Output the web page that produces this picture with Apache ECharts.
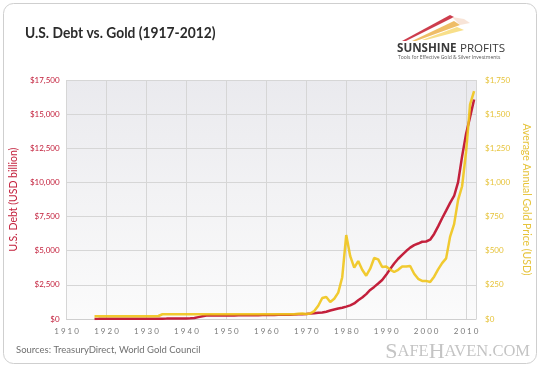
<!DOCTYPE html>
<html>
<head>
<meta charset="utf-8">
<script src="https://cdn.jsdelivr.net/npm/echarts@6/dist/echarts.min.js"></script>
<style>
html,body{margin:0;padding:0;background:#fff;}
#chart{width:540px;height:368px;}
</style>
</head>
<body>
<div id="chart"></div>
<script>
var years = [1917,1918,1919,1920,1921,1922,1923,1924,1925,1926,1927,1928,1929,1930,1931,1932,1933,1934,1935,1936,1937,1938,1939,1940,1941,1942,1943,1944,1945,1946,1947,1948,1949,1950,1951,1952,1953,1954,1955,1956,1957,1958,1959,1960,1961,1962,1963,1964,1965,1966,1967,1968,1969,1970,1971,1972,1973,1974,1975,1976,1977,1978,1979,1980,1981,1982,1983,1984,1985,1986,1987,1988,1989,1990,1991,1992,1993,1994,1995,1996,1997,1998,1999,2000,2001,2002,2003,2004,2005,2006,2007,2008,2009,2010,2011,2012];
var debtBillion = [3,12,25,24,24,23,22,21,21,20,19,18,17,16,17,19,23,27,29,34,36,37,40,43,49,72,137,201,259,269,258,252,253,257,255,259,266,271,274,273,271,276,285,286,289,298,306,312,317,320,326,348,354,371,398,427,458,475,533,620,699,772,827,908,998,1142,1377,1572,1823,2125,2350,2602,2857,3233,3665,4065,4411,4693,4974,5225,5413,5526,5656,5674,5807,6228,6783,7379,7933,8507,9008,10025,11910,13562,14790,16066];
var goldPrice = [20.67,20.67,20.67,20.67,20.67,20.67,20.67,20.67,20.67,20.67,20.67,20.67,20.67,20.67,20.67,20.67,22,34.69,35,35,35,35,35,35,35,35,35,35,35,35,35,35,35,35,35,35,35,35,35,35,35,35,35,35,35,35,35,35,35,35,35,39,41,36,41,58,97,154,161,125,148,193,306,615,460,376,424,361,317,368,447,437,381,384,362,344,360,384,384,388,331,294,279,279,271,310,363,409,444,603,695,872,972,1225,1572,1669];
var xTicks = [1910,1920,1930,1940,1950,1960,1970,1980,1990,2000,2010];
var debtTicks = [0,2500,5000,7500,10000,12500,15000,17500];
var goldTicks = [0,250,500,750,1000,1250,1500,1750];

var RED = '#c3203c', YEL = '#f0c419';
function money(v){ return '$' + String(v).replace(/\B(?=(\d{3})+(?!\d))/g, ','); }

var debtData = years.map(function(y,i){ return [y, debtBillion[i]]; });
var goldData = years.map(function(y,i){ return [y, goldPrice[i]]; });

var chart = echarts.init(document.getElementById('chart'), null, {renderer:'canvas'});
var font = 'Lato, "Open Sans", sans-serif';
chart.setOption({
  animation:false,
  backgroundColor:'#fff',
  graphic:[
    {type:'rect', shape:{x:3.5,y:3.5,width:533,height:360,r:10}, style:{fill:'#fff', stroke:'#cfcfcf', lineWidth:1}, z:-10},
    {type:'text', x:25, y:26, scaleX:0.92, style:{text:'U.S. Debt vs. Gold (1917-2012)', font:'bold 15px Lato, sans-serif', fill:'#2b2b2b'}},
    // logo streaks
    {type:'polygon', shape:{points:[[402,41],[450,15],[454,17],[406,41]]}, style:{fill:'#c8283a', opacity:0.9}},
    {type:'polygon', shape:{points:[[412,41],[454,21],[460,25],[416,41]]}, style:{fill:'#e9a733', opacity:0.75}},
    {type:'polygon', shape:{points:[[422,40],[457,27],[464,30],[426,40]]}, style:{fill:'#f3c93b', opacity:0.6}},
    {type:'polygon', shape:{points:[[452,17],[464,19],[470,23],[460,25]]}, style:{fill:'#f2c9b0', opacity:0.5}},
    {type:'text', x:397, y:43, style:{rich:{a:{font:'bold 11.6px "Open Sans", sans-serif', fill:'#3a3a3a'}, b:{font:'11.6px "Open Sans", sans-serif', fill:'#3a3a3a'}}, text:'{a|SUNSHINE} {b|PROFITS}'}},
    {type:'text', x:398, y:55.5, style:{text:'Tools for Effective Gold & Silver Investments', font:'5px "Open Sans", sans-serif', fill:'#555'}},
    {type:'text', x:16, y:345, style:{text:'Sources: TreasuryDirect, World Gold Council', font:'9.5px Lato, sans-serif', fill:'#707070'}},
    {type:'text', right:10, top:341, style:{rich:{a:{font:'22px "Liberation Serif", serif', fill:'#c4c4c4'}, b:{font:'16.5px "Liberation Serif", serif', fill:'#c4c4c4'}}, text:'{a|S}{b|AFE}{a|H}{b|AVEN.COM}'}}
  ],
  grid:{left:62, right:56, top:80, bottom:49, show:true, borderWidth:0,
    backgroundColor:{type:'linear', x:0, y:0, x2:0, y2:1, colorStops:[{offset:0,color:'#eaeaee'},{offset:1,color:'#fbfbfb'}]}},
  xAxis:{type:'value', min:xTicks[0], max:2012.5, interval:10,
    axisLine:{show:true, lineStyle:{color:'#cfcfcf'}}, axisTick:{show:false},
    splitLine:{show:true, lineStyle:{color:'#d6d6d6'}},
    axisLabel:{showMaxLabel:false, color:'#7a7a7a', fontSize:8, fontFamily:font, margin:8,
      formatter:function(v){ return xTicks.indexOf(v) >= 0 ? v.toString().split('').join(' ') : ''; }}},
  yAxis:[
    {type:'value', min:debtTicks[0], max:debtTicks[debtTicks.length-1], interval:2500,
      name:'U.S. Debt (USD billion)', nameLocation:'middle', nameGap:44, nameRotate:90,
      nameTextStyle:{color:RED, fontSize:10.5, fontFamily:font},
      axisLine:{show:false}, axisTick:{show:false},
      splitLine:{show:true, lineStyle:{color:'#d6d6d6'}},
      axisLabel:{color:RED, fontSize:8, fontFamily:font, margin:7, formatter:money}},
    {type:'value', min:goldTicks[0], max:goldTicks[goldTicks.length-1], interval:250,
      name:'Average Annual Gold Price (USD)', nameLocation:'middle', nameGap:41, nameRotate:-90,
      nameTextStyle:{color:'#e6c33a', fontSize:10.5, fontFamily:font},
      axisLine:{show:false}, axisTick:{show:false}, splitLine:{show:false},
      axisLabel:{color:'#e6c33a', fontSize:8, fontFamily:font, margin:9, formatter:money}}
  ],
  series:[
    {name:'U.S. Debt', type:'line', yAxisIndex:0, data:debtData, showSymbol:false,
      lineStyle:{color:RED, width:2.5}, itemStyle:{color:RED}},
    {name:'Gold', type:'line', yAxisIndex:1, data:goldData, showSymbol:false,
      lineStyle:{color:YEL, width:2.5, opacity:0.9}, itemStyle:{color:YEL}}
  ]
});
</script>
</body>
</html>
